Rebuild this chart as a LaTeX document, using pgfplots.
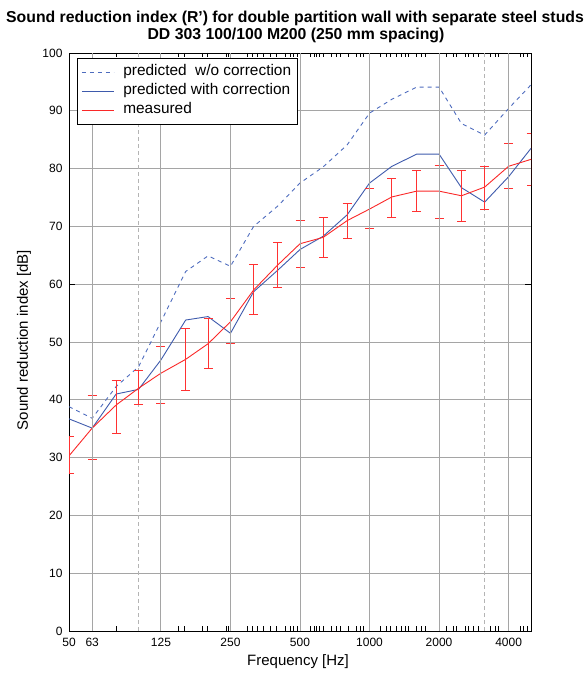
\documentclass[border=0pt]{standalone}
\usepackage{fontspec}
\setmainfont{Liberation Sans}
\usepackage{pgfplots}
\pgfplotsset{compat=1.18}
\usepackage{pgfplotstable}
\definecolor{pblue}{RGB}{62,90,172}
\definecolor{pblue2}{RGB}{78,108,190}
\definecolor{mred}{RGB}{250,40,40}
\definecolor{ebred}{RGB}{255,50,50}
\definecolor{gridg}{RGB}{165,165,165}
\definecolor{gridd}{RGB}{180,180,180}

\pgfplotstableread{
f    y
50   38.8
63   36.8
80   42.3
100  45.7
125  53.5
160  62.2
200  64.9
250  63.1
315  70.0
400  73.5
500  77.5
630  80.3
800  84.1
1000 89.6
1250 92.0
1600 94.1
2000 94.1
2500 87.8
3150 85.8
4000 90.4
5000 94.5
}\wocorr

\pgfplotstableread{
f    y
50   36.7
63   35.1
80   41.0
100  41.8
125  46.9
160  53.8
200  54.4
250  51.5
315  58.7
400  62.4
500  66.0
630  68.3
800  72.0
1000 77.5
1250 80.4
1600 82.5
2000 82.5
2500 76.7
3150 74.2
4000 78.6
5000 83.5
}\wcorr

\pgfplotstableread{
f    y    up   lo
50   30.3 33.7 27.2
63   35.1 40.7 29.6
80   39.1 43.4 34.1
100  42.0 45.0 39.2
125  44.6 49.3 39.4
160  47.0 52.4 41.7
200  49.7 54.1 45.4
250  53.5 57.5 49.7
315  59.0 63.5 54.8
400  63.3 67.2 59.4
500  67.0 71.1 62.9
630  68.1 71.6 64.6
800  71.0 74.0 68.0
1000 73.0 76.5 69.7
1250 75.1 78.3 71.6
1600 76.1 79.6 72.5
2000 76.1 80.6 71.4
2500 75.3 79.6 70.9
3150 76.8 80.3 73.0
4000 80.4 84.3 76.5
5000 81.6 86.0 77.1
}\meas

\begin{document}
\begin{tikzpicture}
\begin{axis}[
  at={(0,0)}, anchor=south west,
  scale only axis, width=462pt, height=578pt,
  xmode=log, xmin=50, xmax=5000, ymin=0, ymax=100,
  xtick={50,63,125,250,500,1000,2000,4000},
  xticklabels={50,63,125,250,500,1000,2000,4000},
  minor xtick={80,149,158,189,198,239,245,295,310,326,348,372,397,432,454,469,485,556,575,591,606,631,686,721,745,810,880,910,940,1110,1187,1227,1311,1379,1425,1472,1601,1683,1740,2160,2307,2387,2592,2679,2817,2959,3326,3497,3613,4485,4636,4826},
  ytick={0,10,...,100},
  extra x ticks={100,3150}, extra x tick labels={},
  extra x tick style={grid=major, major grid style={gridd, line width=0.9pt, dash pattern=on 4pt off 3pt}, major tick length=0pt},
  extra y ticks={60}, extra y tick labels={},
  extra y tick style={grid=none, major tick length=6pt, tick style={black, line width=1pt}},
  grid=major,
  major grid style={gridg, line width=0.9pt},
  axis line style={black, line width=0.9pt},
  tick style={black, line width=0.8pt},
  major tick length=0pt, minor tick length=4.5pt,
  tick label style={font=\fontsize{12}{13}\selectfont},
  yticklabel style={/pgf/number format/assume math mode=true, xshift=-3pt},
  xticklabel style={yshift=-4pt},
  xlabel={Frequency [Hz]}, ylabel={Sound reduction index [dB]},
  label style={font=\fontsize{15}{18}\selectfont},
  xlabel style={at={(axis description cs:0.4957,-0.0536)}, anchor=center},
  ylabel style={at={(axis description cs:-0.0974,0.5035)}, anchor=center},
  legend style={at={(axis description cs:0.0173,0.9913)}, anchor=north west,
    draw=black, line width=0.9pt, fill=white,
    font=\fontsize{15.4}{18}\selectfont,
    inner xsep=4pt, inner ysep=4.5pt, row sep=0pt,
    nodes={text height=11pt, text depth=4pt, inner sep=2pt}},
  legend cell align=left,
  legend image code/.code={\draw[#1] (0pt,0pt) -- (32pt,0pt); \path (39pt,0pt);},
]
\coordinate (sw) at (rel axis cs:0,0);
\addplot[pblue2, line width=0.9pt, dash pattern=on 4pt off 4pt, no marks] table[x=f,y=y] \wocorr;
\addlegendentry{predicted\ \ w/o correction}
\addplot[pblue, line width=0.9pt, no marks] table[x=f,y=y] \wcorr;
\addlegendentry{predicted with correction}
\addplot[mred, line width=0.9pt, no marks,
  error bars/.cd, y dir=both, y explicit,
  error bar style={ebred, line width=0.9pt, solid},
  error mark options={rotate=90, mark size=4.5pt, ebred, line width=0.9pt}]
  table[x=f, y=y, y error plus expr=\thisrow{up}-\thisrow{y}, y error minus expr=\thisrow{y}-\thisrow{lo}] \meas;
\addlegendentry{measured}
\foreach \g in {63,125,250,500,1000,2000,4000}{
  \edef\tmp{\noexpand\draw[gridg, line width=0.9pt] (axis cs:\g,0) -- (axis cs:\g,100);}\tmp
}
\end{axis}
\node[anchor=base, font=\bfseries\fontsize{15.8}{18}\selectfont] at ([shift={(226pt,608.3pt)}]sw) {Sound reduction index (R') for double partition wall with separate steel studs};
\node[anchor=base, font=\bfseries\fontsize{15.8}{18}\selectfont] at ([shift={(227pt,591pt)}]sw) {DD 303 100/100 M200 (250 mm spacing)};
\pgfresetboundingbox
\path[use as bounding box] ([shift={(-69pt,-42pt)}]sw) rectangle ([shift={(517pt,631pt)}]sw);
\end{tikzpicture}
\end{document}
